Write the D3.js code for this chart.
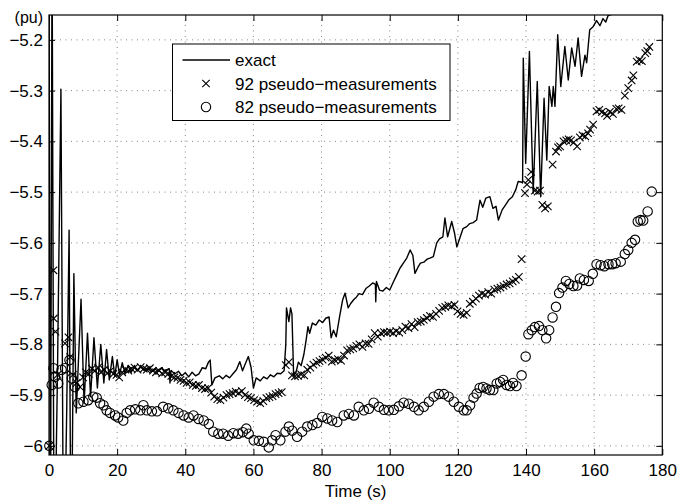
<!DOCTYPE html>
<html>
<head>
<meta charset="utf-8">
<script src="https://cdn.jsdelivr.net/npm/d3@7"></script>
<style>
  html, body { margin: 0; padding: 0; background: #fff; }
  svg { display: block; }
  text { font-family: "Liberation Sans", Arial, Helvetica, sans-serif; fill: #000; }
</style>
</head>
<body>
<svg id="chart" width="693" height="501"></svg>
<script>
// ---------------- data ----------------
const xTicks = [0, 20, 40, 60, 80, 100, 120, 140, 160, 180];
const yTicks = [-6, -5.9, -5.8, -5.7, -5.6, -5.5, -5.4, -5.3, -5.2];
const yTickLabels = ["\u22126", "\u22125.9", "\u22125.8", "\u22125.7", "\u22125.6", "\u22125.5", "\u22125.4", "\u22125.3", "\u22125.2"];
const legendLabels = ["exact", "92 pseudo\u2212measurements", "82 pseudo\u2212measurements"];

const exactT = [0,0.4,0.9,1.5,2.5,3.5,4.3,5.2,5.9,6.5,7.3,8.0,9.4,10.3,11.3,12.2,13.2,14.2,15.2,16.1,16.9,17.7,18.6,19.3,20.0,20.7,21.5,22.3,23.2,24.1,25,26,27,28,29,30,31,32,33,34,35.3,35.5,35.8,37,38,39,40,41,42,43,44,45,46,46.8,47.3,47.8,48.7,50,51,52,53,54,55,56,56.8,57.5,58.5,59.3,60.0,60.8,62,63,64,65,66,67,68,69,69.5,69.7,70.4,70.9,71.3,71.8,72.5,73.2,74,74.8,75.5,76,76.5,77.3,78.3,79.3,80.3,81.3,82.2,82.8,83.5,84.3,85.3,86.2,86.9,87.8,88.5,89.4,90.2,91,92,93,94,95,95.8,95.9,96.1,97,98,99,100,101,102,103,104,105,106,106.8,107.4,108.3,109,110,111,111.8,112.8,113.8,114.6,115.6,116.2,117,118.2,119,119.7,120.6,121.5,122.6,123.5,124.5,125.5,126.5,127.3,128.2,129.4,130.3,131.2,131.9,133,134,135,136,137,137.7,138.5,139.0,139.2,139.9,141.0,142.1,143.3,144.3,145.3,146.1,146.8,147.6,148.0,148.5,149.3,150.2,151.4,152.4,153.4,154.4,155.3,156.3,157.3,157.8,158.7,159.7,160.7,161.7,162.6,163.4,164.1,165,166,170,178];
const exactV = [-5.0,-6.3,-5.0,-6.3,-5.85,-5.297,-6.3,-5.93,-5.575,-6.3,-5.661,-5.935,-5.711,-5.916,-5.778,-5.903,-5.787,-5.886,-5.800,-5.876,-5.810,-5.870,-5.824,-5.863,-5.830,-5.860,-5.836,-5.857,-5.842,-5.855,-5.845,-5.852,-5.843,-5.851,-5.846,-5.854,-5.848,-5.853,-5.846,-5.852,-5.848,-5.876,-5.852,-5.858,-5.853,-5.862,-5.856,-5.864,-5.855,-5.862,-5.858,-5.846,-5.848,-5.835,-5.831,-5.880,-5.866,-5.862,-5.868,-5.861,-5.866,-5.858,-5.850,-5.834,-5.852,-5.840,-5.824,-5.845,-5.886,-5.866,-5.872,-5.864,-5.868,-5.860,-5.864,-5.857,-5.858,-5.852,-5.800,-5.728,-5.755,-5.728,-5.740,-5.862,-5.855,-5.835,-5.842,-5.820,-5.790,-5.765,-5.778,-5.758,-5.762,-5.752,-5.757,-5.748,-5.746,-5.787,-5.772,-5.785,-5.745,-5.712,-5.699,-5.728,-5.720,-5.712,-5.707,-5.700,-5.702,-5.690,-5.685,-5.679,-5.682,-5.716,-5.676,-5.693,-5.695,-5.688,-5.693,-5.678,-5.664,-5.650,-5.640,-5.630,-5.614,-5.625,-5.660,-5.648,-5.640,-5.638,-5.632,-5.630,-5.627,-5.600,-5.592,-5.588,-5.551,-5.588,-5.558,-5.580,-5.608,-5.590,-5.572,-5.568,-5.562,-5.560,-5.555,-5.516,-5.530,-5.512,-5.509,-5.532,-5.528,-5.555,-5.535,-5.525,-5.515,-5.509,-5.495,-5.479,-5.480,-5.482,-5.236,-5.443,-5.223,-5.502,-5.282,-5.509,-5.315,-5.437,-5.292,-5.331,-5.292,-5.331,-5.190,-5.292,-5.213,-5.279,-5.216,-5.252,-5.196,-5.272,-5.230,-5.245,-5.180,-5.174,-5.162,-5.172,-5.158,-5.165,-5.152,-5.150,-5.140,-5.10,-5.05];

const m92T = [0.1,1.3,1.4,1.9,2.5,4.7,5.7,6.2,7.0,8.1,9.1,10.0,10.8,11.7,12.6,13.5,14.4,15.3,16.2,17.1,18.0,18.9,19.8,20.6,21.5,22.4,23.3,24.2,25.1,26.0,26.9,27.8,28.7,29.6,30.5,31.4,32.3,33.2,34.1,35.0,35.9,36.8,37.7,38.6,39.5,40.4,41.3,42.2,43.1,44.0,44.9,45.8,46.7,47.6,48.5,49.4,50.3,51.2,52.1,53.0,53.9,54.8,55.7,56.6,57.5,58.4,59.3,60.2,61.1,62.0,62.9,63.8,64.7,65.6,66.5,67.4,68.3,69.5,70.4,71.3,72.2,73.1,74.0,74.9,75.8,76.7,77.6,78.5,79.4,80.3,81.2,82.1,83.0,83.9,84.8,85.7,86.6,87.5,88.4,89.3,90.2,91.1,92.0,92.9,93.8,94.7,95.6,96.5,97.4,98.3,99.2,100.1,101.0,101.9,102.8,103.7,104.6,105.5,106.4,107.3,108.2,109.1,110.0,110.9,111.8,112.7,113.6,114.5,115.4,116.3,117.2,118.1,119.0,119.9,120.8,121.7,122.6,123.5,124.4,125.3,126.2,127.1,128.0,128.9,129.8,130.7,131.6,132.5,133.4,134.3,135.2,136.1,137.0,137.9,138.7,139.7,140.3,140.7,141.5,142.6,143.4,144.1,144.8,145.6,146.4,147.8,148.8,149.4,150.0,151.0,151.8,152.5,153.2,154.0,155.0,155.8,156.6,157.4,158.2,158.8,159.7,160.7,161.5,162.3,163.2,163.8,164.6,165.5,166.5,167.2,168.0,169.0,170.0,171.0,171.5,172.5,173.3,174.0,175.0,175.6,176.2];
const m92V = [-6.0,-5.654,-5.749,-5.775,-5.86,-5.798,-5.786,-5.825,-5.86,-5.876,-5.884,-5.865,-5.855,-5.858,-5.848,-5.852,-5.846,-5.855,-5.850,-5.857,-5.852,-5.858,-5.860,-5.865,-5.855,-5.850,-5.852,-5.848,-5.846,-5.850,-5.845,-5.848,-5.850,-5.847,-5.852,-5.855,-5.852,-5.857,-5.855,-5.858,-5.862,-5.865,-5.866,-5.870,-5.872,-5.876,-5.875,-5.880,-5.882,-5.880,-5.886,-5.888,-5.886,-5.895,-5.903,-5.908,-5.910,-5.905,-5.900,-5.898,-5.896,-5.893,-5.896,-5.892,-5.900,-5.904,-5.906,-5.910,-5.913,-5.916,-5.912,-5.906,-5.904,-5.902,-5.898,-5.896,-5.894,-5.841,-5.835,-5.861,-5.863,-5.862,-5.859,-5.861,-5.850,-5.846,-5.840,-5.836,-5.833,-5.830,-5.826,-5.822,-5.834,-5.831,-5.829,-5.832,-5.822,-5.812,-5.810,-5.808,-5.803,-5.800,-5.805,-5.798,-5.799,-5.790,-5.778,-5.785,-5.778,-5.776,-5.777,-5.775,-5.778,-5.774,-5.777,-5.772,-5.765,-5.768,-5.760,-5.766,-5.756,-5.755,-5.752,-5.748,-5.744,-5.746,-5.740,-5.734,-5.728,-5.726,-5.723,-5.725,-5.722,-5.735,-5.740,-5.742,-5.738,-5.720,-5.716,-5.710,-5.704,-5.700,-5.702,-5.697,-5.700,-5.692,-5.690,-5.688,-5.685,-5.682,-5.680,-5.676,-5.673,-5.667,-5.632,-5.502,-5.485,-5.476,-5.460,-5.497,-5.499,-5.497,-5.525,-5.532,-5.528,-5.446,-5.420,-5.412,-5.410,-5.400,-5.398,-5.396,-5.398,-5.402,-5.410,-5.392,-5.388,-5.390,-5.384,-5.377,-5.367,-5.341,-5.338,-5.342,-5.345,-5.350,-5.342,-5.346,-5.336,-5.335,-5.338,-5.310,-5.295,-5.280,-5.270,-5.243,-5.240,-5.242,-5.226,-5.222,-5.214];

const m82T = [0.1,0.8,1.3,1.8,2.7,3.7,4.7,6.0,6.7,7.6,8.6,10.1,11.5,13.0,14.0,15.0,16.0,16.9,17.9,19.4,20.3,21.8,22.8,23.8,25.3,26.8,27.7,28.7,30.2,31.7,33.5,35.0,36.5,38.0,39.5,41.0,42.4,43.9,45.4,46.9,48.2,49.7,51.1,52.6,54.1,55.5,56.9,57.9,58.6,60.1,61.6,63.0,64.5,65.5,66.5,67.9,69.4,70.4,71.4,72.8,74.3,75.8,77.3,78.7,80.2,81.7,83.1,84.6,86.5,88.0,89.5,90.9,92.4,93.9,95.3,96.8,98.3,99.7,101.2,102.7,104.1,105.6,107.1,108.5,110.0,111.5,112.9,114.4,115.9,117.3,118.8,120.3,121.7,122.6,123.6,124.6,125.5,126.4,127.4,128.4,129.4,130.4,131.4,132.4,133.3,134.3,135.3,136.2,137.2,138.7,139.9,140.7,141.7,142.6,143.8,144.8,145.9,146.8,147.8,148.8,149.7,150.7,151.7,152.7,153.9,155.0,155.8,157.0,158.4,159.6,160.7,161.9,163.0,164.2,165.3,166.3,167.8,169.0,170.0,171.0,172.0,172.8,173.6,174.4,175.7,176.9];
const m82V = [-6.0,-5.880,-5.847,-5.864,-5.877,-5.850,-5.847,-5.831,-5.867,-5.884,-5.916,-5.913,-5.910,-5.903,-5.905,-5.916,-5.920,-5.930,-5.935,-5.940,-5.944,-5.950,-5.935,-5.930,-5.928,-5.930,-5.920,-5.930,-5.932,-5.932,-5.923,-5.926,-5.930,-5.935,-5.940,-5.944,-5.940,-5.947,-5.950,-5.957,-5.972,-5.976,-5.976,-5.980,-5.975,-5.976,-5.973,-5.966,-5.976,-5.989,-5.990,-5.992,-6.003,-5.989,-5.979,-5.989,-5.972,-5.962,-5.970,-5.982,-5.972,-5.962,-5.959,-5.955,-5.943,-5.946,-5.950,-5.953,-5.940,-5.937,-5.940,-5.923,-5.930,-5.927,-5.915,-5.923,-5.929,-5.930,-5.929,-5.922,-5.915,-5.917,-5.923,-5.930,-5.923,-5.913,-5.903,-5.898,-5.898,-5.903,-5.913,-5.923,-5.930,-5.930,-5.920,-5.905,-5.897,-5.886,-5.884,-5.887,-5.890,-5.890,-5.877,-5.874,-5.870,-5.880,-5.882,-5.876,-5.882,-5.861,-5.824,-5.780,-5.772,-5.766,-5.764,-5.772,-5.788,-5.772,-5.747,-5.726,-5.699,-5.688,-5.675,-5.681,-5.685,-5.684,-5.670,-5.673,-5.675,-5.661,-5.642,-5.644,-5.646,-5.642,-5.642,-5.640,-5.637,-5.622,-5.614,-5.600,-5.594,-5.558,-5.555,-5.556,-5.538,-5.499];

// ---------------- layout ----------------
const W = 693, H = 501;
const FS = 17;
const M = { left: 49, top: 15, right: 30.7, bottom: 46 };
const svg = d3.select("#chart");
const x = d3.scaleLinear().domain([0, 180]).range([M.left, W - M.right]);
const y = d3.scaleLinear().domain([-6.018, -5.151]).range([H - M.bottom, M.top]);
const x0 = x.range()[0], x1 = x.range()[1], y0 = y.range()[0], y1 = y.range()[1];

svg.append("defs").append("clipPath").attr("id", "clip")
  .append("rect").attr("x", x0).attr("y", y1).attr("width", x1 - x0).attr("height", y0 - y1);

// grid
const grid = svg.append("g").attr("stroke", "#666").attr("stroke-width", 0.8).attr("stroke-dasharray", "1,4.5");
grid.selectAll(".gx").data(xTicks.slice(1, -1)).join("line")
  .attr("x1", d => x(d)).attr("x2", d => x(d)).attr("y1", y0).attr("y2", y1);
grid.selectAll(".gy").data(yTicks).join("line")
  .attr("y1", d => y(d)).attr("y2", d => y(d)).attr("x1", x0).attr("x2", x1);

// exact line
const exact = exactT.map((t, i) => [t, exactV[i]]);
svg.append("path").datum(exact)
  .attr("clip-path", "url(#clip)")
  .attr("fill", "none").attr("stroke", "#000").attr("stroke-width", 1.4)
  .attr("stroke-linejoin", "round")
  .attr("d", d3.line().x(d => x(d[0])).y(d => y(d[1])));

// markers
const crossSym = d3.symbol().type(d3.symbolTimes).size(38);
const R = 4.7;
svg.append("g").selectAll("path").data(m92T.map((t, i) => [t, m92V[i]])).join("path")
  .attr("d", crossSym)
  .attr("transform", d => `translate(${x(d[0])},${y(d[1])})`)
  .attr("fill", "none").attr("stroke", "#000").attr("stroke-width", 1.1);

svg.append("g").selectAll("circle").data(m82T.map((t, i) => [t, m82V[i]])).join("circle")
  .attr("cx", d => x(d[0])).attr("cy", d => y(d[1])).attr("r", R)
  .attr("fill", "none").attr("stroke", "#000").attr("stroke-width", 1.1);

// axes
const fmtY = d => yTickLabels[yTicks.findIndex(v => Math.abs(v - d) < 1e-9)];
const axB = svg.append("g").attr("transform", `translate(0,${y0})`)
  .call(d3.axisBottom(x).tickValues(xTicks).tickSizeInner(-6).tickSizeOuter(0).tickPadding(9));
const axL = svg.append("g").attr("transform", `translate(${x0},0)`)
  .call(d3.axisLeft(y).tickValues(yTicks).tickFormat(fmtY).tickSizeInner(-6).tickSizeOuter(0).tickPadding(6));
const axT = svg.append("g").attr("transform", `translate(0,${y1})`)
  .call(d3.axisTop(x).tickValues(xTicks).tickFormat("").tickSizeInner(-6).tickSizeOuter(0));
const axR = svg.append("g").attr("transform", `translate(${x1},0)`)
  .call(d3.axisRight(y).tickValues(yTicks).tickFormat("").tickSizeInner(-6).tickSizeOuter(0));
[axB, axL, axT, axR].forEach(g => {
  g.select(".domain").remove();
  g.selectAll("line").attr("stroke", "#000").attr("stroke-width", 1);
  g.selectAll("text").attr("font-family", "'Liberation Sans', Arial, sans-serif").attr("font-size", FS).attr("fill", "#000");
});
svg.append("rect").attr("x", x0).attr("y", y1).attr("width", x1 - x0).attr("height", y0 - y1)
  .attr("fill", "none").attr("stroke", "#000").attr("stroke-width", 1.2);

// axis titles
svg.append("text").attr("x", (x0 + x1) / 2).attr("y", 497).attr("text-anchor", "middle")
  .attr("font-size", FS).text("Time (s)");
svg.append("text").attr("x", 43).attr("y", 23).attr("text-anchor", "end")
  .attr("font-size", FS - 1).text("(pu)");

// legend
const lg = svg.append("g");
lg.append("rect").attr("x", 172.5).attr("y", 44).attr("width", 277.5).attr("height", 76.5)
  .attr("fill", "#fff").attr("stroke", "#000").attr("stroke-width", 1);
const rows = [60, 83.5, 107];
lg.append("line").attr("x1", 182.5).attr("x2", 230).attr("y1", rows[0]).attr("y2", rows[0])
  .attr("stroke", "#000").attr("stroke-width", 1.4);
lg.append("path").attr("d", crossSym).attr("transform", `translate(206,${rows[1]})`)
  .attr("fill", "none").attr("stroke", "#000").attr("stroke-width", 1.1);
lg.append("circle").attr("cx", 206).attr("cy", rows[2]).attr("r", R)
  .attr("fill", "none").attr("stroke", "#000").attr("stroke-width", 1.1);
lg.selectAll("text.l").data(legendLabels).join("text")
  .attr("x", 235).attr("y", (d, i) => rows[i] + 6).attr("font-size", FS).text(d => d);
</script>
</body>
</html>
